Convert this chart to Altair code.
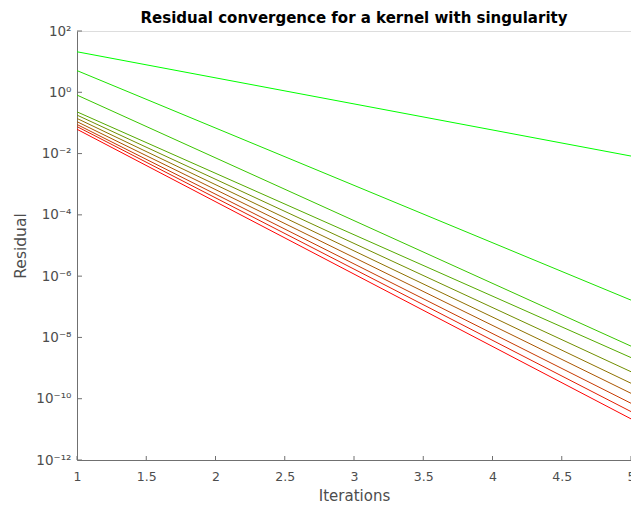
import altair as alt
import pandas as pd

# Residual at first and last iteration for each of the 10 runs
iterations = [1, 5]
start_values = [21.0, 5.1, 0.81, 0.23, 0.18, 0.14, 0.11, 0.089, 0.076, 0.062]
end_values = [8.3e-3, 1.65e-7, 5.2e-9, 2.2e-9, 7.6e-10, 3.2e-10, 1.5e-10, 7.1e-11, 3.8e-11, 2.2e-11]
line_colors = ["#00ff00", "#1ce300", "#39c600", "#55aa00", "#718e00",
               "#8e7100", "#aa5500", "#c63900", "#e31c00", "#ff0000"]
x_ticks = [1, 1.5, 2, 2.5, 3, 3.5, 4, 4.5, 5]
y_ticks = [1e-12, 1e-10, 1e-8, 1e-6, 1e-4, 1e-2, 1e0, 1e2]
y_tick_labels = ["10⁻¹²", "10⁻¹⁰", "10⁻⁸", "10⁻⁶", "10⁻⁴", "10⁻²", "10⁰", "10²"]

rows = []
for i, (s, e) in enumerate(zip(start_values, end_values)):
    rows.append({"run": f"r{i}", "it": iterations[0], "res": s})
    rows.append({"run": f"r{i}", "it": iterations[1], "res": e})
df = pd.DataFrame(rows)

W, H = 554, 429
FONT = "DejaVu Sans"
AX = "#707070"
TXT = "#4d4d4d"

label_expr = ""
for v, lab in zip(y_ticks, y_tick_labels):
    label_expr += f"datum.value < {v * 3} ? '{lab}' : "
label_expr += "''"

xs = alt.Scale(domain=[1, 5], nice=False, zero=False)
ys = alt.Scale(type="log", domain=[1e-12, 1e2], nice=False)

lines = alt.Chart(df).mark_line(strokeWidth=1, clip=True).encode(
    x=alt.X("it:Q", scale=xs, title="Iterations",
            axis=alt.Axis(values=x_ticks, format="~g", grid=False, ticks=False, domainColor=AX,
                          labelColor=TXT, titleColor=TXT, labelFont=FONT, titleFont=FONT,
                          labelFontSize=12.5, titleFontSize=15, titleFontWeight="normal",
                          labelPadding=10, titlePadding=6, labelFlush=False)),
    y=alt.Y("res:Q", scale=ys, title="Residual",
            axis=alt.Axis(values=y_ticks, grid=False, ticks=False, domainColor=AX,
                          labelColor=TXT, titleColor=TXT, labelFont=FONT, titleFont=FONT,
                          labelFontSize=13.5, titleFontSize=15.5, titleFontWeight="normal",
                          labelExpr=label_expr, labelPadding=6, titlePadding=7)),
    color=alt.Color("run:N", scale=alt.Scale(domain=[f"r{i}" for i in range(10)], range=line_colors),
                    legend=None),
    detail="run:N",
)

xt = alt.Chart(pd.DataFrame({"it": x_ticks})).mark_rule(color=AX, strokeWidth=1).encode(
    x=alt.X("it:Q", scale=xs), y=alt.value(H), y2=alt.value(H - 4))
yt = alt.Chart(pd.DataFrame({"res": y_ticks})).mark_rule(color=AX, strokeWidth=1).encode(
    y=alt.Y("res:Q", scale=ys), x=alt.value(0), x2=alt.value(5))

chart = alt.layer(lines, xt, yt).properties(
    width=W, height=H,
    title=alt.TitleParams("Residual convergence for a kernel with singularity",
                          font=FONT, fontSize=15, fontWeight="bold", color="#000000",
                          anchor="middle", offset=6, dy=8),
    autosize=alt.AutoSizeParams(type="none"),
    padding={"left": 77, "top": 31, "right": 0, "bottom": 45},
).configure_view(stroke=None).configure(background="white")

chart.save("out.html", embed_options={"renderer": "svg", "actions": False})
